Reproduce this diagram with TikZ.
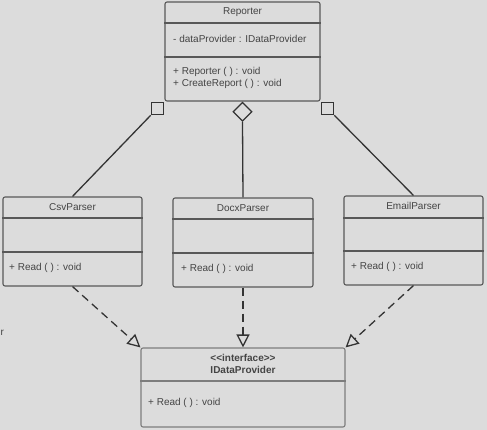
\documentclass[tikz,border=0pt]{standalone}
\usepackage{fontspec}
\setmainfont{Liberation Sans}
\usetikzlibrary{arrows.meta,shapes.geometric}
\definecolor{bgc}{RGB}{220,220,220}
\definecolor{edgec}{RGB}{88,88,88}
\definecolor{lightedge}{RGB}{125,125,125}
\definecolor{linec}{RGB}{52,52,52}
\definecolor{txtc}{RGB}{68,68,68}
\tikzset{
  classbox/.style={draw=edgec, line width=1.1pt, rounded corners=2pt, fill=bgc, inner sep=0pt},
  ifacebox/.style={classbox, draw=lightedge},
  divider/.style={draw=edgec, line width=1.1pt},
  lightdivider/.style={draw=lightedge, line width=1.1pt},
  title/.style={text=txtc, font=\fontsize{10}{12}\selectfont, inner sep=0pt},
  member/.style={text=txtc, font=\fontsize{10}{12}\selectfont, inner sep=0pt, anchor=west},
  assoc/.style={draw=linec, line width=1.3pt},
  sqbox/.style={draw=linec, line width=1.3pt, fill=bgc, minimum size=12.5pt, inner sep=0pt},
  diam/.style={draw=linec, line width=1.3pt, fill=bgc, shape=diamond, minimum width=19pt, minimum height=19pt, inner sep=0pt},
  realize/.style={draw=linec, line width=1.3pt, dash pattern=on 8pt off 5pt,
    -{Triangle[open, length=13pt, width=13pt, line width=1.3pt]}},
}
\begin{document}
\begin{tikzpicture}[x=1pt, y=-1pt]
\path[fill=bgc] (0,0) rectangle (487,430);
\useasboundingbox (0,0) rectangle (487,430);

% Reporter
\node[classbox, minimum width=155pt, minimum height=99pt] (rep) at (242.5,51.5) {};
\draw[divider] (rep.west |- 0,23) -- (rep.east |- 0,23);
\draw[divider] (rep.west |- 0,57) -- (rep.east |- 0,57);
\node[title] (repname) at (242.5,12) {Reporter};
\node[member] (repattr) at (173,39) {- dataProvider : IDataProvider};
\node[member] (repm1) at (173,72) {+ Reporter ( ) : void};
\node[member] (repm2) at (173,84) {+ CreateReport ( ) : void};

% CsvParser
\node[classbox, minimum width=139pt, minimum height=89pt] (csv) at (72.5,241.5) {};
\draw[divider] (csv.west |- 0,218) -- (csv.east |- 0,218);
\draw[divider] (csv.west |- 0,252) -- (csv.east |- 0,252);
\node[title] (csvname) at (72.5,207) {CsvParser};
\node[member] (csvm) at (9,268) {+ Read ( ) : void};

% DocxParser
\node[classbox, minimum width=140pt, minimum height=89pt] (docx) at (243,242.5) {};
\draw[divider] (docx.west |- 0,219) -- (docx.east |- 0,219);
\draw[divider] (docx.west |- 0,253) -- (docx.east |- 0,253);
\node[title] (docxname) at (243,208) {DocxParser};
\node[member] (docxm) at (181,269) {+ Read ( ) : void};

% EmailParser
\node[classbox, minimum width=139pt, minimum height=89pt] (email) at (413.5,240.5) {};
\draw[divider] (email.west |- 0,218) -- (email.east |- 0,218);
\draw[divider] (email.west |- 0,251) -- (email.east |- 0,251);
\node[title] (emailname) at (413.5,206) {EmailParser};
\node[member] (emailm) at (351,267) {+ Read ( ) : void};

% IDataProvider
\node[ifacebox, minimum width=204pt, minimum height=79pt] (idp) at (243,387.5) {};
\draw[lightdivider] (idp.west |- 0,381) -- (idp.east |- 0,381);
\node[title, font=\bfseries\fontsize{10}{12}\selectfont] (idpst) at (243,358) {{<}{<}interface{>}{>}};
\node[title, font=\bfseries\fontsize{10}{12}\selectfont] (idpname) at (243,370) {IDataProvider};
\node[member] (idpm) at (148,403) {+ Read ( ) : void};

% association ends
\node[sqbox, anchor=north east] (sqL) at (rep.south west) {};
\node[sqbox, anchor=north west] (sqR) at (rep.south east) {};
\node[diam, anchor=north] (dia) at (rep.south) {};

\draw[assoc] (sqL.south west) -- (csv.north);
\draw[assoc] (dia.south) -- (docx.north);
\draw[assoc] (sqR.south east) -- (email.north);

% realizations
\draw[realize] (csv.south) -- (idp.north west);
\draw[realize] (docx.south) -- (idp.north);
\draw[realize] (email.south) -- (idp.north east);

% stray clipped text
\node[member, anchor=base west] (stray) at (0.5,335.5) {r};
\end{tikzpicture}
\end{document}
